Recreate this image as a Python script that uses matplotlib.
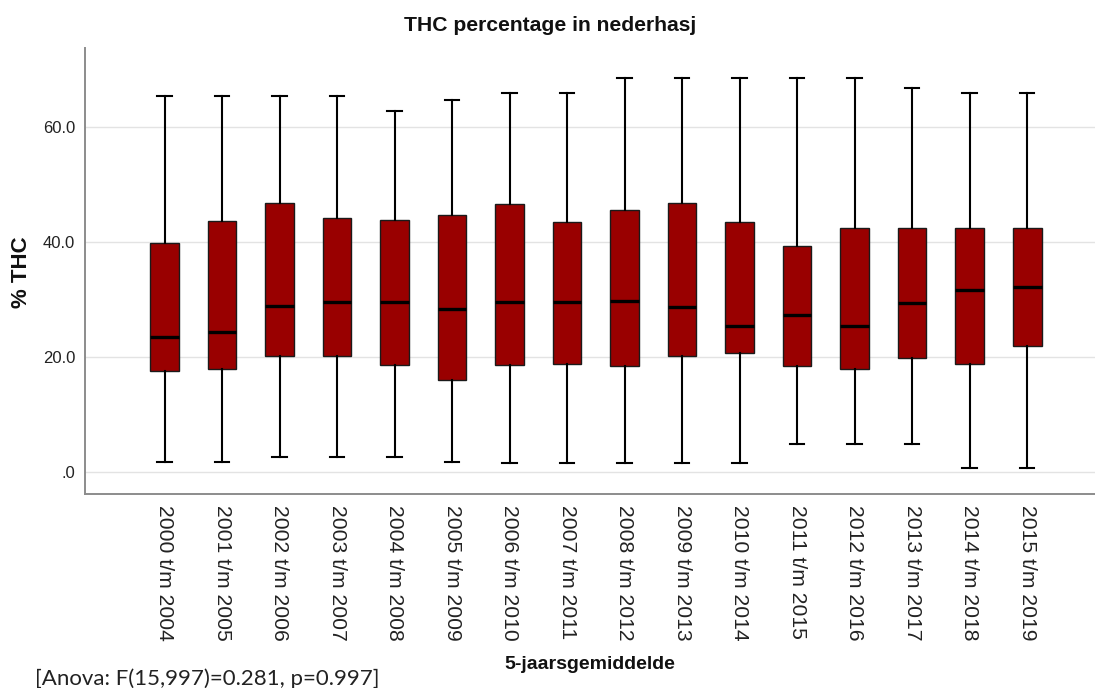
import numpy as np
import matplotlib.pyplot as plt

periodes = ['2000 t/m 2004', '2001 t/m 2005', '2002 t/m 2006', '2003 t/m 2007',
            '2004 t/m 2008', '2005 t/m 2009', '2006 t/m 2010', '2007 t/m 2011',
            '2008 t/m 2012', '2009 t/m 2013', '2010 t/m 2014', '2011 t/m 2015',
            '2012 t/m 2016', '2013 t/m 2017', '2014 t/m 2018', '2015 t/m 2019']

# boxplot statistics per 5-year window (% THC)
wmin = [1.8, 1.8, 2.6, 2.6, 2.6, 1.8, 1.6, 1.6, 1.6, 1.6, 1.6, 4.9, 4.9, 4.9, 0.8, 0.8]
q1   = [17.7, 17.9, 20.3, 20.3, 18.6, 16.1, 18.6, 18.9, 18.5, 20.3, 20.7, 18.5, 18.0, 19.9, 18.8, 22.0]
med  = [23.6, 24.5, 29.0, 29.6, 29.6, 28.4, 29.7, 29.7, 29.8, 28.7, 25.4, 27.3, 25.4, 29.4, 31.8, 32.2]
q3   = [39.9, 43.8, 46.9, 44.2, 43.9, 44.7, 46.7, 43.5, 45.6, 46.8, 43.5, 39.3, 42.5, 42.5, 42.5, 42.5]
wmax = [65.5, 65.5, 65.5, 65.5, 62.8, 64.7, 66.0, 66.0, 68.6, 68.6, 68.6, 68.6, 68.6, 66.9, 66.0, 66.0]

yticks = [0, 20, 40, 60]
yticklabels = ['.0', '20.0', '40.0', '60.0']

plt.rcParams['font.family'] = ['Liberation Sans', 'DejaVu Sans']

stats = []
for i in range(len(periodes)):
    stats.append({'whislo': wmin[i], 'q1': q1[i], 'med': med[i],
                  'q3': q3[i], 'whishi': wmax[i], 'fliers': []})

fig = plt.figure(figsize=(10.95, 6.88), dpi=100)
ax = fig.add_axes([0.0776, 0.282, 0.9224, 0.648])

pos = np.arange(len(periodes))
ax.bxp(stats, positions=pos, widths=0.5, capwidths=0.25, patch_artist=True,
       showfliers=False,
       boxprops=dict(facecolor='#990000', edgecolor='#1a1a1a', linewidth=1.0),
       medianprops=dict(color='black', linewidth=2.4),
       whiskerprops=dict(color='black', linewidth=1.5),
       capprops=dict(color='black', linewidth=1.5))

ax.set_xlim(-1.383, 16.18)
ax.set_ylim(-3.77, 73.8)

ax.set_yticks(yticks)
ax.set_yticklabels(yticklabels, fontsize=12, color='#222222')
ax.set_xticks(pos)
ax.set_xticklabels(periodes, rotation=-90, fontsize=15.2, color='#222222')
ax.tick_params(axis='both', length=0)
ax.tick_params(axis='y', pad=7)
ax.tick_params(axis='x', pad=8)

ax.yaxis.grid(True, color='#e3e3e3', linewidth=1.0)
ax.set_axisbelow(True)

for s in ['top', 'right']:
    ax.spines[s].set_visible(False)
for s in ['left', 'bottom']:
    ax.spines[s].set_color('#8c8c8c')
    ax.spines[s].set_linewidth(1.4)

fig.text(0.502, 0.963, 'THC percentage in nederhasj', ha='center', va='center',
         fontsize=15.2, fontweight='bold', color='#111111')
fig.text(0.020, 0.605, '% THC', ha='center', va='center', rotation=90,
         fontsize=16, fontweight='bold', color='#111111')
fig.text(0.539, 0.034, '5-jaarsgemiddelde', ha='center', va='center',
         fontsize=14, fontweight='bold', color='#111111')
fig.text(0.032, 0.014, '[Anova: F(15,997)=0.281, p=0.997]', ha='left', va='center',
         fontsize=16, family=['Lato', 'DejaVu Sans'], color='#222222')

fig.savefig('out.png', dpi=100)
